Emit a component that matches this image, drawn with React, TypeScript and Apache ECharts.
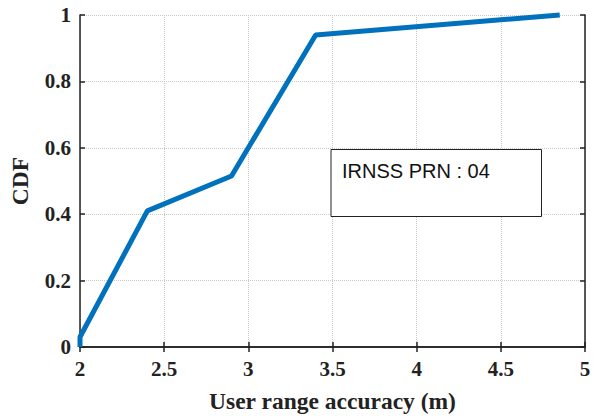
import React, { useEffect, useRef } from "react";
import * as echarts from "echarts";

const xValues = [2.0, 2.0, 2.4, 2.9, 3.4, 4.85];
const cdfValues = [0.0, 0.03, 0.41, 0.515, 0.94, 1.0];
const xTicks = [2, 2.5, 3, 3.5, 4, 4.5, 5];
const yTicks = [0, 0.2, 0.4, 0.6, 0.8, 1];
const annotation = "IRNSS PRN : 04";
const xName = "User range accuracy (m)";
const yName = "CDF";

export default function App() {
  const ref = useRef<HTMLDivElement>(null);
  useEffect(() => {
    if (!ref.current) return;
    const chart = echarts.init(ref.current, null, { renderer: "svg" });
    const serif = "Liberation Serif";
    const axisLine = { show: true, lineStyle: { color: "#222", width: 1.5 } };
    const tickStyle = { show: true, inside: true, length: 5, lineStyle: { color: "#222", width: 1.5 } };
    const splitLine = { show: true, lineStyle: { color: "#c8c8c8", type: "dotted", width: 1 } };
    chart.setOption({
      animation: false,
      backgroundColor: "#fff",
      grid: { left: 77, right: 16, top: 15, bottom: 65 },
      xAxis: [
        {
          type: "value", min: 2, max: 5, interval: 0.5,
          name: xName, nameLocation: "middle", nameGap: 42,
          nameTextStyle: { fontFamily: serif, fontWeight: "bold", fontSize: 23.5, color: "#222" },
          axisLine, axisTick: tickStyle, splitLine,
          axisLabel: { show: false },
        },
        {
          type: "value", position: "top", min: 2, max: 5, interval: 0.5,
          axisLine, axisTick: tickStyle, splitLine: { show: false }, axisLabel: { show: false },
        },
      ],
      yAxis: [
        {
          type: "value", min: 0, max: 1, interval: 0.2,
          name: yName, nameLocation: "middle", nameGap: 48,
          nameTextStyle: { fontFamily: serif, fontWeight: "bold", fontSize: 23.5, color: "#222" },
          axisLine, axisTick: tickStyle, splitLine,
          axisLabel: { show: false },
        },
        {
          type: "value", position: "right", min: 0, max: 1, interval: 0.2,
          axisLine, axisTick: tickStyle, splitLine: { show: false }, axisLabel: { show: false },
        },
      ],
      series: [
        {
          type: "line",
          data: xValues.map((x, i) => [x, cdfValues[i]]),
          showSymbol: false,
          lineStyle: { color: "#0072BD", width: 5 },
          clip: false,
        },
      ],
    });
    const font = "bold 21px 'Liberation Serif'";
    const labels: any[] = [];
    xTicks.forEach((v) => {
      const [px, py] = chart.convertToPixel({ gridIndex: 0 }, [v, 0]) as number[];
      labels.push({
        type: "text", x: px, y: py + 11,
        style: { text: String(v), font, fill: "#222", textAlign: "center", textVerticalAlign: "top" },
      });
    });
    yTicks.forEach((v) => {
      const [px, py] = chart.convertToPixel({ gridIndex: 0 }, [2, v]) as number[];
      labels.push({
        type: "text", x: px - 9, y: py,
        style: { text: String(v), font, fill: "#222", textAlign: "right", textVerticalAlign: "middle" },
      });
    });
    chart.setOption({
      graphic: [
        ...labels,
        {
          type: "rect",
          shape: { x: 331, y: 149.5, width: 210.5, height: 67 },
          style: { fill: "#fff", stroke: "#222", lineWidth: 1 },
        },
        {
          type: "text",
          x: 342, y: 161,
          style: { text: annotation, font: "20px 'Liberation Sans'", fill: "#111", textVerticalAlign: "top" },
        },
      ],
    });
    return () => chart.dispose();
  }, []);
  return <div ref={ref} style={{ width: 601, height: 418, position: "absolute", left: 0, top: 0 }} />;
}
